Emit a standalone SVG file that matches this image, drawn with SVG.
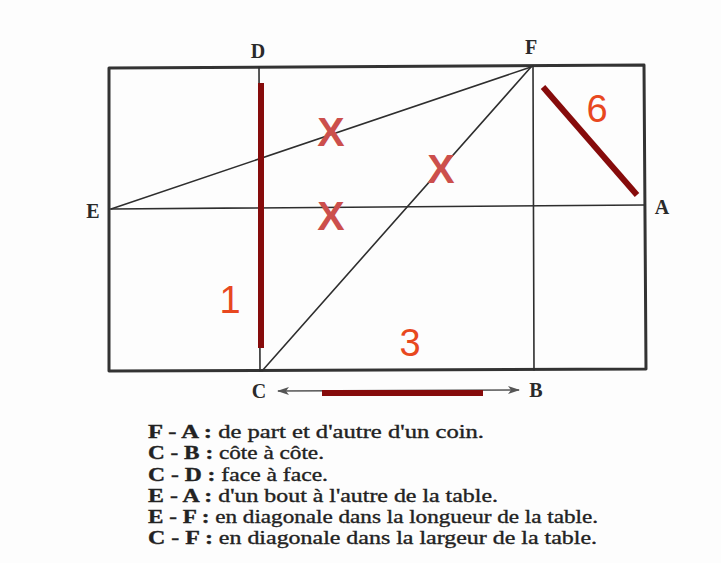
<svg xmlns="http://www.w3.org/2000/svg" width="721" height="563" viewBox="0 0 721 563">
<style>
.ln{stroke:#2e2e2e;stroke-width:1.6;fill:none;stroke-linecap:round}
.frame{stroke:#333;stroke-width:3;fill:none;stroke-linejoin:round}
.bar{stroke:#860b0b;stroke-width:6;stroke-linecap:butt}
.pt{font-family:"Liberation Serif",serif;font-weight:bold;font-size:20px;fill:#2a2a2a;text-anchor:middle}
.num{font-family:"Liberation Sans",Arial,sans-serif;font-size:38px;fill:#e8481f;text-anchor:middle}
.x{font-family:"Liberation Sans",Arial,sans-serif;font-weight:bold;font-size:41px;fill:#cc4f4c;text-anchor:middle}
.leg{font-family:"Liberation Serif",serif;font-size:18px;fill:#222;stroke:#222;stroke-width:0.35}
.leg .k{font-weight:bold}
</style>
<defs>
<marker id="ah" viewBox="0 0 12 10" refX="11" refY="5" markerWidth="12" markerHeight="10" markerUnits="userSpaceOnUse" orient="auto-start-reverse">
<path d="M0,1 L12,5 L0,9 L3,5 Z" fill="#555"/>
</marker>
</defs>
<rect width="721" height="563" fill="#fdfdfd"/>
<g id="connectors">
<path class="frame" d="M109,68 L644,65 L646,369 L109,371 Z"/>
<line class="ln" x1="259" y1="67" x2="260" y2="371"/>
<line class="ln" x1="533" y1="66" x2="534" y2="370"/>
<line class="ln" x1="111" y1="209" x2="644" y2="205"/>
<line class="ln" x1="111" y1="209" x2="531" y2="67"/>
<line class="ln" x1="262" y1="371" x2="531" y2="67"/>
<line x1="278" y1="391" x2="519" y2="390" stroke="#555" stroke-width="1.6" marker-start="url(#ah)" marker-end="url(#ah)"/>
<line class="bar" x1="261" y1="83" x2="261" y2="348"/>
<line class="bar" x1="543" y1="87" x2="637" y2="195"/>
<line class="bar" x1="322" y1="393" x2="483" y2="393" stroke-width="7"/>
</g>
<g id="node-D"><text class="pt" x="258" y="58">D</text></g>
<g id="node-F"><text class="pt" x="531" y="54">F</text></g>
<g id="node-E"><text class="pt" x="93" y="218">E</text></g>
<g id="node-A"><text class="pt" x="662" y="214">A</text></g>
<g id="node-C"><text class="pt" x="259" y="398">C</text></g>
<g id="node-B"><text class="pt" x="536" y="397">B</text></g>
<g id="marks">
<text class="x" x="331" y="146">X</text>
<text class="x" x="331" y="230">X</text>
<text class="x" x="441" y="183">X</text>
<text class="num" x="597" y="122">6</text>
<text class="num" x="230" y="313">1</text>
<text class="num" x="410" y="356">3</text>
</g>
<g id="legend" class="leg">
<text x="148" y="438" textLength="336" lengthAdjust="spacingAndGlyphs"><tspan class="k">F - A :</tspan> de part et d'autre d'un coin.</text>
<text x="148" y="459" textLength="176" lengthAdjust="spacingAndGlyphs"><tspan class="k">C - B :</tspan> côte à côte.</text>
<text x="148" y="481" textLength="180" lengthAdjust="spacingAndGlyphs"><tspan class="k">C - D :</tspan> face à face.</text>
<text x="148" y="502" textLength="350" lengthAdjust="spacingAndGlyphs"><tspan class="k">E - A :</tspan> d'un bout à l'autre de la table.</text>
<text x="148" y="523" textLength="450" lengthAdjust="spacingAndGlyphs"><tspan class="k">E - F :</tspan> en diagonale dans la longueur de la table.</text>
<text x="148" y="544" textLength="449" lengthAdjust="spacingAndGlyphs"><tspan class="k">C - F :</tspan> en diagonale dans la largeur de la table.</text>
</g>
</svg>
